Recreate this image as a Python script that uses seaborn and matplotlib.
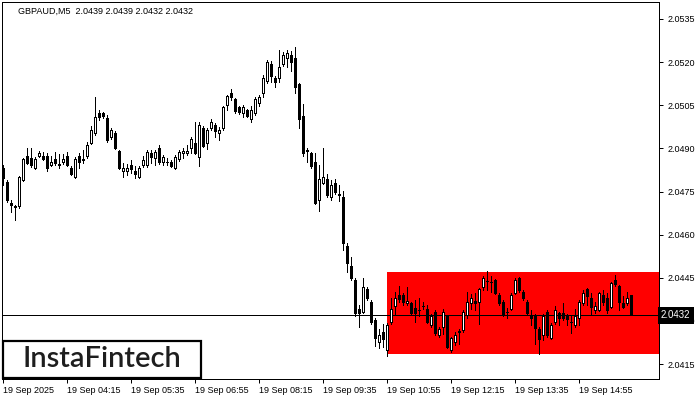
import numpy as np
import pandas as pd
import matplotlib
matplotlib.use("Agg")
import matplotlib.pyplot as plt
import seaborn as sns
from matplotlib.patches import Rectangle

title_text = "GBPAUD,M5  2.0439 2.0439 2.0432 2.0432"

# prices in points (1 point = 0.00001)
open_pts = [204832, 204783, 204710, 204696, 204699, 204790, 204873, 204866, 204832, 204873,
            204873, 204873, 204842, 204863, 204842, 204853, 204873, 204832, 204800, 204873,
            204863, 204873, 204919, 204953, 205023, 205023, 205006, 204940, 204953, 204891,
            204821, 204821, 204842, 204821, 204800, 204842, 204842, 204884, 204866, 204901,
            204853, 204853, 204853, 204832, 204863, 204884, 204884, 204901, 204919, 204870,
            204971, 204919, 204971, 204981, 204953, 204971, 205051, 205093, 205072, 205044,
            205023, 205033, 205002, 205023, 205058, 205093, 205134, 205193, 205145, 205145,
            205193, 205214, 205225, 205214, 205124, 205013, 204894, 204884, 204853, 204720,
            204780, 204793, 204731, 204780, 204741, 204731, 204560, 204491, 204442, 204341,
            204331, 204411, 204366, 204303, 204227, 204261, 204199, 204296, 204352, 204390,
            204390, 204362, 204362, 204345, 204338, 204352, 204341, 204286, 204331, 204251,
            204279, 204317, 204199, 204227, 204261, 204268, 204320, 204362, 204369, 204366,
            204418, 204439, 204435, 204442, 204390, 204366, 204331, 204341, 204397, 204449,
            204400, 204366, 204320, 204317, 204272, 204251, 204331, 204240, 204296, 204327,
            204327, 204317, 204296, 204286, 204310, 204362, 204411, 204380, 204338, 204338,
            204390, 204380, 204348, 204442, 204421, 204362, 204362, 204390]
high_pts = [204842, 204790, 204720, 204703, 204804, 204866, 204901, 204901, 204870, 204891,
            204887, 204884, 204873, 204887, 204880, 204880, 204887, 204839, 204870, 204884,
            204894, 204922, 204978, 205079, 205033, 205026, 205016, 204971, 204960, 204894,
            204849, 204846, 204860, 204839, 204839, 204873, 204894, 204894, 204894, 204912,
            204877, 204866, 204860, 204877, 204894, 204901, 204912, 204940, 204992, 204992,
            204978, 204971, 205002, 204988, 204974, 205047, 205086, 205106, 205075, 205047,
            205051, 205037, 205047, 205079, 205086, 205155, 205207, 205204, 205152, 205242,
            205235, 205242, 205239, 205253, 205127, 205054, 204901, 204887, 204884, 204842,
            204901, 204811, 204790, 204793, 204773, 204752, 204571, 204522, 204449, 204355,
            204449, 204418, 204373, 204310, 204272, 204289, 204293, 204380, 204400, 204421,
            204397, 204418, 204366, 204373, 204380, 204366, 204355, 204324, 204338, 204279,
            204341, 204320, 204244, 204261, 204272, 204338, 204400, 204393, 204397, 204414,
            204456, 204474, 204456, 204446, 204397, 204373, 204345, 204397, 204449, 204453,
            204407, 204373, 204338, 204324, 204279, 204324, 204338, 204293, 204352, 204331,
            204362, 204324, 204317, 204341, 204373, 204407, 204414, 204397, 204366, 204400,
            204407, 204397, 204435, 204459, 204425, 204386, 204400, 204390]
low_pts = [204773, 204713, 204679, 204651, 204693, 204786, 204846, 204835, 204828, 204870,
           204860, 204821, 204839, 204842, 204832, 204846, 204839, 204807, 204797, 204832,
           204849, 204866, 204915, 204947, 204999, 205006, 204922, 204933, 204898, 204828,
           204800, 204807, 204814, 204797, 204797, 204835, 204835, 204849, 204842, 204846,
           204842, 204842, 204835, 204828, 204856, 204866, 204877, 204884, 204880, 204839,
           204905, 204898, 204964, 204940, 204929, 204964, 205033, 205068, 205023, 205019,
           205009, 205009, 204992, 205016, 205047, 205079, 205127, 205131, 205113, 205131,
           205186, 205183, 205169, 205093, 204971, 204873, 204853, 204832, 204706, 204682,
           204776, 204731, 204720, 204741, 204717, 204547, 204470, 204442, 204317, 204279,
           204327, 204373, 204289, 204213, 204206, 204209, 204178, 204289, 204320, 204366,
           204355, 204355, 204320, 204296, 204317, 204341, 204293, 204279, 204251, 204244,
           204254, 204206, 204192, 204216, 204220, 204261, 204310, 204341, 204338, 204289,
           204407, 204407, 204400, 204393, 204355, 204317, 204310, 204338, 204393, 204400,
           204373, 204320, 204286, 204220, 204185, 204233, 204244, 204237, 204289, 204286,
           204303, 204286, 204258, 204279, 204286, 204355, 204355, 204320, 204327, 204334,
           204355, 204327, 204345, 204421, 204338, 204345, 204355, 204320]
close_pts = [204797, 204720, 204703, 204699, 204800, 204863, 204849, 204842, 204863, 204884,
             204863, 204832, 204853, 204849, 204846, 204863, 204842, 204811, 204863, 204853,
             204860, 204912, 204964, 205009, 205009, 205013, 204929, 204964, 204901, 204832,
             204832, 204832, 204828, 204811, 204832, 204860, 204887, 204870, 204887, 204853,
             204870, 204853, 204839, 204870, 204887, 204891, 204891, 204933, 204884, 204981,
             204908, 204964, 204992, 204960, 204964, 205044, 205082, 205079, 205030, 205026,
             205044, 205013, 205033, 205072, 205079, 205145, 205200, 205152, 205131, 205183,
             205225, 205232, 205200, 205113, 205002, 204884, 204891, 204839, 204710, 204793,
             204800, 204738, 204773, 204748, 204738, 204571, 204501, 204449, 204327, 204327,
             204418, 204380, 204296, 204240, 204251, 204237, 204286, 204341, 204380, 204376,
             204366, 204369, 204327, 204327, 204338, 204352, 204296, 204317, 204258, 204272,
             204331, 204209, 204240, 204251, 204265, 204331, 204366, 204380, 204362, 204411,
             204449, 204439, 204435, 204397, 204362, 204320, 204331, 204390, 204442, 204407,
             204380, 204327, 204310, 204275, 204237, 204317, 204251, 204286, 204338, 204310,
             204310, 204306, 204296, 204317, 204366, 204397, 204386, 204348, 204352, 204397,
             204366, 204338, 204432, 204428, 204366, 204348, 204380, 204320]

x_tick_labels = ["19 Sep 2025", "19 Sep 04:15", "19 Sep 05:35", "19 Sep 06:55",
                 "19 Sep 08:15", "19 Sep 09:35", "19 Sep 10:55", "19 Sep 12:15",
                 "19 Sep 13:35", "19 Sep 14:55"]
y_ticks = [2.0535, 2.0520, 2.0505, 2.0490, 2.0475, 2.0460, 2.0445, 2.0430, 2.0415]
bid_price = 2.0432
zone_start_bar = 96
zone_low = 2.04185
zone_high = 2.0447
logo_text = "InstaFintech"

df = pd.DataFrame({
    "open": np.array(open_pts) / 1e5,
    "high": np.array(high_pts) / 1e5,
    "low": np.array(low_pts) / 1e5,
    "close": np.array(close_pts) / 1e5,
})
df["bar"] = np.arange(len(df))

sns.set_theme(style="white")
plt.rcParams["font.family"] = ["Liberation Sans", "DejaVu Sans"]

W, H = 700, 400
PX = 0.72  # one pixel in points
fig = plt.figure(figsize=(7, 4), dpi=100)
ax = fig.add_axes([2 / W, 1 - 379 / H, 657 / W, 377 / H])
ax.set_facecolor("white")

x_max = 164.0
ax.set_xlim(-0.25, x_max)
ax.set_ylim(2.04098, 2.05409)

# zone rectangle
ax.add_patch(Rectangle((zone_start_bar, zone_low), x_max - zone_start_bar, zone_high - zone_low,
                       facecolor="#ff0000", edgecolor="none", zorder=1))
# bid line
ax.axhline(bid_price, color="black", lw=PX, zorder=2, antialiased=False)

# wicks
ax.vlines(df["bar"], df["low"], df["high"], color="black", lw=PX, zorder=3, antialiased=False)
# bodies
bull = df["close"] > df["open"]
bottoms = np.minimum(df["open"], df["close"])
heights = np.maximum((df["close"] - df["open"]).abs(), 0.000001)
colors = np.where(bull, "white", "black")
ax.bar(df["bar"], heights, bottom=bottoms, width=0.5, color=colors, edgecolor="black",
       linewidth=PX, zorder=4, antialiased=False)

# axes styling
for s in ax.spines.values():
    s.set_color("black")
    s.set_linewidth(PX)
ax.yaxis.tick_right()
ax.set_yticks(y_ticks)
ax.set_yticklabels([f"{v:.4f}" for v in y_ticks])
ax.set_xticks(np.arange(0, 16 * len(x_tick_labels), 16))
ax.set_xticklabels(x_tick_labels, ha="left")
ax.tick_params(axis="y", which="both", right=True, left=False, length=3, width=PX, pad=3,
               labelsize=6.5, colors="black")
ax.tick_params(axis="x", which="both", bottom=True, length=3, width=PX, pad=2,
               labelsize=6.5, colors="black")
ax.grid(False)

# title
fig.text(18 / W, 1 - 11 / H, title_text, fontsize=6.5, color="black", va="center", ha="left")

# current price label
ax.text(1.003, bid_price, f"{bid_price:.4f}", transform=ax.get_yaxis_transform(),
        fontsize=7, color="white", va="center", ha="left", zorder=10,
        bbox=dict(boxstyle="square,pad=0.35", fc="black", ec="none"), clip_on=False)

# logo
fig.patches.append(Rectangle((3 / W, 1 - 378 / H), 198 / W, 37 / H, transform=fig.transFigure,
                             facecolor="white", edgecolor="black", linewidth=1.6, zorder=20))
fig.text(102 / W, 1 - 359 / H, logo_text, fontsize=21, color="#1e1e1e", ha="center",
         va="center", family=["Lato", "DejaVu Sans"], fontweight="semibold", zorder=21)

fig.savefig("out.png", dpi=100)
